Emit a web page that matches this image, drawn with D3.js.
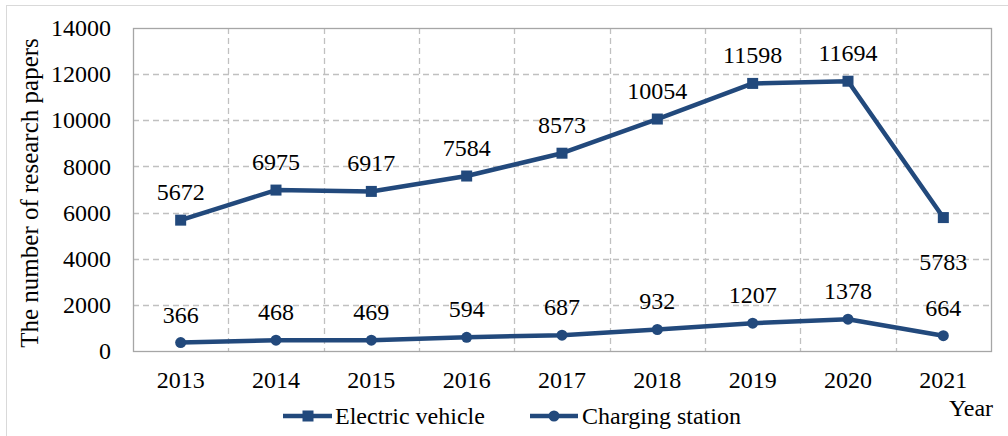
<!DOCTYPE html>
<html>
<head>
<meta charset="utf-8">
<script src="https://cdn.jsdelivr.net/npm/d3@7/dist/d3.min.js"></script>
<style>
body { margin: 0; background: #fff; }
svg text { font-family: "Liberation Serif", "Times New Roman", serif !important; fill: #000; }
</style>
</head>
<body>
<div id="chart-area"></div>
<script>
var years = ["2013", "2014", "2015", "2016", "2017", "2018", "2019", "2020", "2021"];
var electricVehicle = [5672, 6975, 6917, 7584, 8573, 10054, 11598, 11694, 5783];
var chargingStation = [366, 468, 469, 594, 687, 932, 1207, 1378, 664];
var yTicks = [0, 2000, 4000, 6000, 8000, 10000, 12000, 14000];

var W = 1008, H = 436;
var margin = {top: 28, right: 17, bottom: 85, left: 133};
var width = W - margin.left - margin.right;
var height = H - margin.top - margin.bottom;
var blue = "#22497c";
var serif = "'Liberation Serif', 'Times New Roman', serif";

var svg = d3.select("#chart-area").append("svg")
	.attr("width", W)
	.attr("height", H)
	.attr("font-family", serif);

// outer chart border (only top/left visible in the picture)
svg.append("rect")
	.attr("x", 6.5).attr("y", 5.5)
	.attr("width", W + 20).attr("height", H + 20)
	.attr("fill", "none")
	.attr("stroke", "#d9d9d9");

var g = svg.append("g")
	.attr("transform", "translate(" + margin.left + ", " + margin.top + ")");

var x = d3.scaleBand().domain(years).range([0, width]);
var y = d3.scaleLinear().domain([0, 14000]).range([height, 0]);

// grid
g.selectAll(".hgrid").data(yTicks.slice(1, -1)).enter().append("line")
	.attr("x1", 0).attr("x2", width)
	.attr("y1", (d) => Math.round(y(d)) + 0.5).attr("y2", (d) => Math.round(y(d)) + 0.5)
	.attr("stroke", "#c0c0c0").attr("stroke-width", 1.3)
	.attr("stroke-dasharray", "6,4");

g.selectAll(".vgrid").data(years.slice(1)).enter().append("line")
	.attr("x1", (d) => Math.round(x(d)) + 0.5).attr("x2", (d) => Math.round(x(d)) + 0.5)
	.attr("y1", 0).attr("y2", height)
	.attr("stroke", "#c0c0c0").attr("stroke-width", 1.3)
	.attr("stroke-dasharray", "6,4");

// plot frame
g.append("rect")
	.attr("x", 0.5).attr("y", 0.5)
	.attr("width", width).attr("height", height)
	.attr("fill", "none")
	.attr("stroke", "#a6a6a6")
	.attr("stroke-width", 1.3);

// axes
var leftAxis = d3.axisLeft(y).tickValues(yTicks).tickFormat(d3.format("d")).tickSize(0).tickPadding(22);
var yAxisGroup = g.append("g").call(leftAxis)
	.attr("font-family", serif).attr("font-size", 24);
yAxisGroup.select(".domain").remove();

var bottomAxis = d3.axisBottom(x).tickSize(0).tickPadding(20);
var xAxisGroup = g.append("g").attr("transform", "translate(0, " + height + ")").call(bottomAxis)
	.attr("font-family", serif).attr("font-size", 24);
xAxisGroup.select(".domain").remove();

// axis titles
svg.append("text")
	.attr("transform", "rotate(-90)")
	.attr("x", -193)
	.attr("y", 38)
	.attr("font-size", "25px")
	.attr("text-anchor", "middle")
	.text("The number of research papers");

svg.append("text")
	.attr("x", 971)
	.attr("y", 416)
	.attr("font-size", "24px")
	.attr("text-anchor", "middle")
	.text("Year");

var cx = (i) => x(years[i]) + x.bandwidth() / 2;
var line = d3.line().x((d, i) => cx(i)).y((d) => y(d));

// electric vehicle series
g.append("path").datum(electricVehicle)
	.attr("d", line)
	.attr("fill", "none").attr("stroke", blue).attr("stroke-width", 4.5)
	.attr("stroke-linejoin", "round");
g.selectAll(".ev").data(electricVehicle).enter().append("rect")
	.attr("x", (d, i) => cx(i) - 5.5).attr("y", (d) => y(d) - 5.5)
	.attr("width", 11).attr("height", 11)
	.attr("fill", blue);
g.selectAll(".evlab").data(electricVehicle).enter().append("text")
	.attr("x", (d, i) => cx(i))
	.attr("y", (d, i) => i == 8 ? y(d) + 52 : y(d) - 20)
	.attr("text-anchor", "middle")
	.attr("font-size", "24px")
	.text((d) => d);

// charging station series
g.append("path").datum(chargingStation)
	.attr("d", line)
	.attr("fill", "none").attr("stroke", blue).attr("stroke-width", 4.5)
	.attr("stroke-linejoin", "round");
g.selectAll(".cs").data(chargingStation).enter().append("circle")
	.attr("cx", (d, i) => cx(i)).attr("cy", (d) => y(d))
	.attr("r", 5.5)
	.attr("fill", blue);
g.selectAll(".cslab").data(chargingStation).enter().append("text")
	.attr("x", (d, i) => cx(i))
	.attr("y", (d) => y(d) - 20)
	.attr("text-anchor", "middle")
	.attr("font-size", "24px")
	.text((d) => d);

// legend
var legend = svg.append("g").attr("transform", "translate(0, 416)");
legend.append("line").attr("x1", 283).attr("x2", 332).attr("y1", 0).attr("y2", 0)
	.attr("stroke", blue).attr("stroke-width", 4.5);
legend.append("rect").attr("x", 302.5).attr("y", -5.5).attr("width", 11).attr("height", 11).attr("fill", blue);
legend.append("text").attr("x", 335).attr("y", 8).attr("font-size", "24px").text("Electric vehicle");
legend.append("line").attr("x1", 530).attr("x2", 578).attr("y1", 0).attr("y2", 0)
	.attr("stroke", blue).attr("stroke-width", 4.5);
legend.append("circle").attr("cx", 554).attr("cy", 0).attr("r", 5.5).attr("fill", blue);
legend.append("text").attr("x", 582).attr("y", 8).attr("font-size", "24px").text("Charging station");
</script>
</body>
</html>
